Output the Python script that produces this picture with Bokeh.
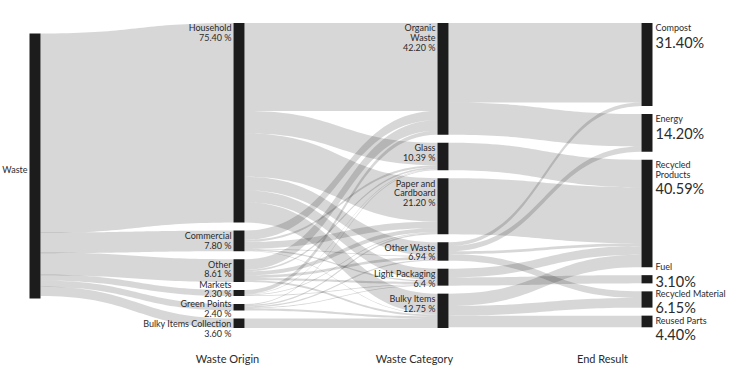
import numpy as np
from bokeh.plotting import figure
from bokeh.models import Range1d, ColumnDataSource
from bokeh.embed import file_html
from bokeh.resources import INLINE
from bokeh.core.properties import value

# ---------------- data ----------------
root_name = "Waste"
origins = ["Household", "Commercial", "Other", "Markets", "Green Points", "Bulky Items Collection"]
origin_pct = [75.40, 7.80, 8.61, 2.30, 2.40, 3.60]

categories = ["Organic\nWaste", "Glass", "Paper and\nCardboard", "Other Waste", "Light Packaging", "Bulky Items"]
category_pct_text = ["42.20 %", "10.39 %", "21.20 %", "6.94 %", "6.4 %", "12.75 %"]

results = ["Compost", "Energy", "Recycled\nProducts", "Fuel", "Recycled Material", "Reused Parts"]
result_pct = [31.40, 14.20, 40.59, 3.10, 6.15, 4.40]

stage_titles = ["Waste Origin", "Waste Category", "End Result"]

# flows origin -> category (rows: origins, columns: categories)
origin_to_category = [
    [33.2, 8.49, 16.4, 5.14, 4.5, 7.67],
    [3.5, 0.8, 2.5, 0.3, 0.5, 0.2],
    [4.0, 0.6, 1.5, 1.0, 0.8, 0.71],
    [1.5, 0.2, 0.3, 0.0, 0.3, 0.0],
    [0.0, 0.3, 0.5, 0.5, 0.3, 0.8],
    [0.0, 0.0, 0.0, 0.0, 0.0, 3.6],
]
# flows category -> end result
category_to_result = [
    [30.0, 12.2, 0.0, 0.0, 0.0, 0.0],
    [0.0, 0.0, 10.39, 0.0, 0.0, 0.0],
    [0.0, 0.0, 21.2, 0.0, 0.0, 0.0],
    [1.4, 2.0, 1.04, 0.0, 2.5, 0.0],
    [0.0, 0.0, 3.3, 3.1, 0.0, 0.0],
    [0.0, 0.0, 4.66, 0.0, 3.65, 4.4],
]
root_to_origin = [origin_pct]

# ---------------- layout ----------------
W, H = 728, 371
col_x = [29, 233, 437, 641]
node_w = 11
pad = 8
top, bottom = 22.5, 327.5
root_top = 33
font = "Lato"
txt_color = "#2b2b2b"
node_color = "#1c1c1c"

flows = [np.array(root_to_origin, float), np.array(origin_to_category, float), np.array(category_to_result, float)]
col_sizes = [1, len(origins), len(categories), len(results)]
vals = []
for c in range(4):
    inn = flows[c - 1].sum(axis=0) if c > 0 else np.zeros(1)
    out = flows[c].sum(axis=1) if c < 3 else np.zeros(col_sizes[c])
    vals.append(np.maximum(inn, out))
k = min((bottom - top - pad * (len(v) - 1)) / v.sum() for v in vals[1:])

ys = []
for c, v in enumerate(vals):
    y = root_top if c == 0 else top
    arr = []
    for val in v:
        arr.append(y)
        y += val * k + pad
    ys.append(np.array(arr))

p = figure(width=W, height=H, output_backend="svg", toolbar_location=None,
           x_range=Range1d(0, W), y_range=Range1d(H, 0), min_border=0)
p.axis.visible = False
p.grid.visible = False
p.outline_line_color = None
p.background_fill_color = "white"

# links
t = np.linspace(0, 1, 40)
def bez(a, b):
    return (1 - t) ** 3 * a + 3 * (1 - t) ** 2 * t * a + 3 * (1 - t) * t ** 2 * b + t ** 3 * b

xs_l, ys_l = [], []
for c in range(3):
    F = flows[c]
    src_off = ys[c].copy()
    tgt_off = ys[c + 1].copy()
    x0 = col_x[c] + node_w
    x1 = col_x[c + 1]
    xm = (x0 + x1) / 2
    bx = (1 - t) ** 3 * x0 + 3 * (1 - t) ** 2 * t * xm + 3 * (1 - t) * t ** 2 * xm + t ** 3 * x1
    for i in range(F.shape[0]):
        for j in range(F.shape[1]):
            f = F[i, j]
            if f <= 0:
                continue
            w = f * k
            sy, ty = src_off[i], tgt_off[j]
            top_e = bez(sy, ty)
            bot_e = bez(sy + w, ty + w)
            xs_l.append(np.concatenate([bx, bx[::-1]]).tolist())
            ys_l.append(np.concatenate([top_e, bot_e[::-1]]).tolist())
            src_off[i] += w
            tgt_off[j] += w
p.patches(xs_l, ys_l, fill_color="black", fill_alpha=0.155, line_color=None)

# nodes
L, R, T, B = [], [], [], []
for c in range(4):
    for n, v in enumerate(vals[c]):
        L.append(col_x[c]); R.append(col_x[c] + node_w)
        T.append(ys[c][n]); B.append(ys[c][n] + v * k)
p.quad(left=L, right=R, top=T, bottom=B, fill_color=node_color, line_color=None)

# label stacking helper (push upward to avoid overlaps)
def stack(tops, heights, gap=0.0):
    tops = list(tops)
    for i in range(len(tops) - 2, -1, -1):
        if tops[i] + heights[i] + gap > tops[i + 1]:
            tops[i] = tops[i + 1] - heights[i] - gap
    return tops

lh = 9.8
small = dict(x=[], y=[], text=[], align=[])
def add_line(x, y, s, al):
    small["x"].append(x); small["y"].append(y); small["text"].append(s); small["align"].append(al)

# root label
add_line(col_x[0] - 2, ys[0][0] + vals[0][0] * k / 2 + 3, root_name, "right")

# origin labels
o_lines = [[n, f"{v:.2f} %"] for n, v in zip(origins, origin_pct)]
o_tops = stack(ys[1], [len(l) * lh for l in o_lines])
for tp, lines in zip(o_tops, o_lines):
    for m, s in enumerate(lines):
        add_line(col_x[1] - 2, tp + 4.8 + m * lh, s, "right")

# category labels
c_lines = [n.split("\n") + [pt] for n, pt in zip(categories, category_pct_text)]
c_tops = stack(ys[2], [len(l) * lh for l in c_lines])
for tp, lines in zip(c_tops, c_lines):
    for m, s in enumerate(lines):
        add_line(col_x[2] - 2, tp + 4.8 + m * lh, s, "right")

# result labels
r_lines = [n.split("\n") for n in results]
r_h = [len(l) * lh + 16 for l in r_lines]
r_tops = stack(ys[3], r_h, gap=1)
big = dict(x=[], y=[], text=[])
for tp, lines, v in zip(r_tops, r_lines, result_pct):
    for m, s in enumerate(lines):
        add_line(col_x[3] + node_w + 3, tp + 4.5 + m * lh, s, "left")
    big["x"].append(col_x[3] + node_w + 3)
    big["y"].append(tp + 4.5 + (len(lines) - 1) * lh + 14.5)
    big["text"].append(f"{v:.2f}%")

p.text(x="x", y="y", text="text", text_align="align", source=ColumnDataSource(small),
       text_baseline="middle", text_font=value(font), text_font_size="9px", text_color=txt_color)
p.text(x="x", y="y", text="text", source=ColumnDataSource(big), text_align="left",
       text_baseline="middle", text_font=value(font), text_font_size="14.5px", text_color=txt_color)

# stage titles
title_x = [227, 414, 602]
p.text(x=title_x, y=[358] * 3, text=stage_titles, text_align="center", text_baseline="middle",
       text_font=value(font), text_font_size="11px", text_color=txt_color)

open("out.html", "w").write(file_html(p, INLINE))
